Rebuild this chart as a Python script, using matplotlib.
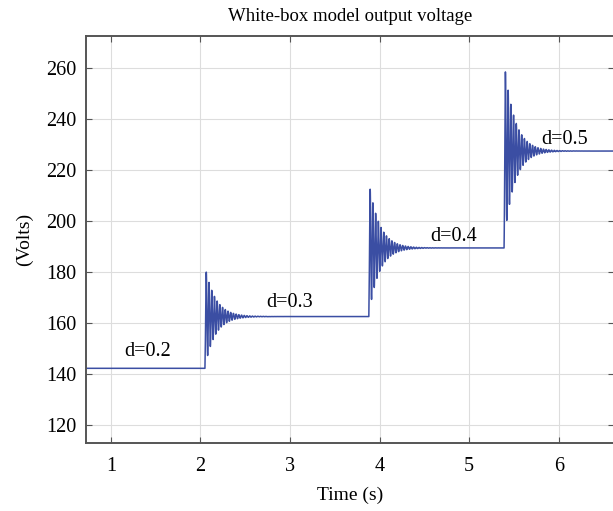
import numpy as np
import matplotlib.pyplot as plt

plt.rcParams['font.family'] = ['Liberation Serif', 'DejaVu Serif']
plt.rcParams['font.size'] = 14

# step times (s), steady-state levels (V) and first-peak values (V)
switch_times = [2.05, 3.88, 5.39]
levels = [142.3, 162.6, 189.5, 227.5]
peaks = [180.0, 212.5, 258.5]
duty_labels = ["d=0.2", "d=0.3", "d=0.4", "d=0.5"]
label_x = [1.41, 3.0, 4.83, 6.06]
label_y = [149.0, 168.2, 194.1, 232.2]

ring_freq = 33.0    # Hz, ringing after each step
ring_tau = 0.115    # s, decay of the ringing

t = np.arange(0.70, 6.70, 0.0003)
v = np.full_like(t, levels[0])
w = 2 * np.pi * ring_freq
t_pk = np.pi / w
for i, ts in enumerate(switch_times):
    new = levels[i + 1]
    after = t >= ts
    dt = t[after] - ts
    # amplitude chosen so the first overshoot lands on the peak
    amp = (peaks[i] - new) / np.exp(-t_pk / ring_tau)
    v[after] = new - amp * np.exp(-dt / ring_tau) * np.cos(w * dt)

fig = plt.figure(figsize=(6.13, 5.11), dpi=100)
ax = fig.add_axes([0.140, 0.133, 0.862, 0.796])
ax.plot(t, v, color="#3b4ea3", linewidth=1.1)

for lab, lx, ly in zip(duty_labels, label_x, label_y):
    ax.text(lx, ly, lab, ha="center", va="center", fontsize=14.5)

ax.set_xlim(0.72, 6.62)
ax.set_ylim(113, 272.5)
ax.set_xticks([1, 2, 3, 4, 5, 6])
ax.set_yticks([120, 140, 160, 180, 200, 220, 240, 260])
ax.grid(True, color="#dddddd", linewidth=0.8)
ax.tick_params(axis="both", direction="in", top=True, right=True, length=4,
               color="#555555", labelsize=14.5)
ax.tick_params(axis="x", pad=10)
ax.tick_params(axis="y", pad=7)
for s in ax.spines.values():
    s.set_color("#555555")
    s.set_linewidth(1.4)

ax.set_title("White-box model output voltage", fontsize=13.5, pad=11)
ax.set_xlabel("Time (s)", fontsize=14, labelpad=8)
ax.set_ylabel("(Volts)", fontsize=14, labelpad=9)

fig.savefig("out.png", dpi=100)
